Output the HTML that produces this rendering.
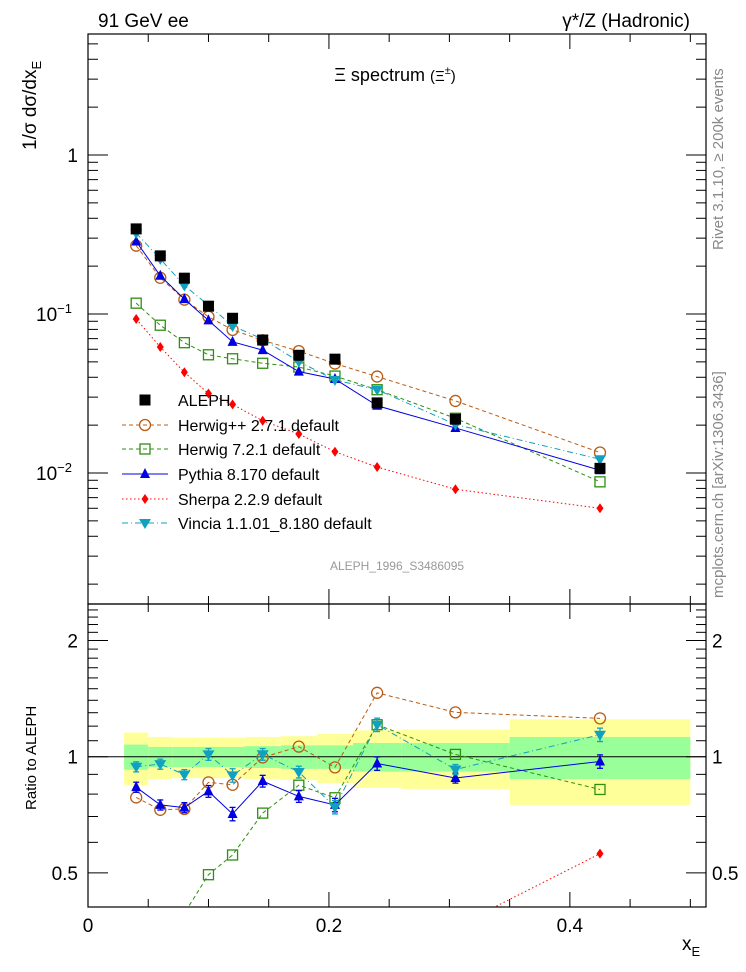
<!DOCTYPE html>
<html><head><meta charset="utf-8"><style>
html,body{margin:0;padding:0;background:#fff;}
svg{display:block;font-family:"Liberation Sans",sans-serif;}
</style></head><body>
<svg id="chart" width="746" height="972" viewBox="0 0 746 972">
<defs>
<clipPath id="clipTop"><rect x="88" y="34" width="618" height="570"/></clipPath>
<clipPath id="clipBot"><rect x="88" y="604" width="618" height="303"/></clipPath>
</defs>
<g id="bands" clip-path="url(#clipBot)"></g>
<g id="grid"></g>
<g id="series"></g>
<rect x="88" y="34" width="618" height="570" fill="none" stroke="#000" stroke-width="1.2"/>
<rect x="88" y="604" width="618" height="303" fill="none" stroke="#000" stroke-width="1.2"/>
<text x="98" y="27" font-size="19">91 GeV ee</text>
<text x="690" y="27" font-size="19" text-anchor="end">γ*/Z (Hadronic)</text>
<text x="395" y="81" font-size="18" text-anchor="middle">Ξ spectrum <tspan font-size="15">(Ξ</tspan><tspan font-size="11" dy="-7">±</tspan><tspan font-size="15" dy="7">)</tspan></text>
<text x="397" y="570" font-size="12" fill="#999" text-anchor="middle">ALEPH_1996_S3486095</text>
<text transform="translate(723,250) rotate(-90)" font-size="15" fill="#888">Rivet 3.1.10, ≥ 200k events</text>
<text transform="translate(723,598) rotate(-90)" font-size="15" fill="#888">mcplots.cern.ch [arXiv:1306.3436]</text>
<text transform="translate(36,150) rotate(-90)" font-size="19">1/σ dσ/dx<tspan font-size="13" dy="5">E</tspan></text>
<text transform="translate(36,810) rotate(-90)" font-size="15">Ratio to ALEPH</text>
<text x="682" y="950" font-size="19">x<tspan font-size="13" dy="6">E</tspan></text>
<g id="legend"></g>
</svg>
<script>
const binEdges=[0.03,0.05,0.07,0.09,0.11,0.13,0.16,0.19,0.22,0.26,0.35,0.50];
const xCenters=[0.04,0.06,0.08,0.10,0.12,0.145,0.175,0.205,0.24,0.305,0.425];
const aleph=[0.343,0.232,0.168,0.112,0.094,0.0686,0.055,0.052,0.0276,0.0218,0.0107];
const alephTotErr=[0.155,0.125,0.12,0.12,0.12,0.125,0.13,0.145,0.17,0.175,0.25];
const alephStatErr=[0.075,0.06,0.06,0.06,0.06,0.065,0.07,0.07,0.085,0.085,0.125];
const herwigpp=[0.269,0.169,0.123,0.0961,0.0795,0.0683,0.0584,0.0488,0.0404,0.0284,0.01345];
const herwig7=[0.117,0.085,0.066,0.0554,0.0523,0.049,0.0464,0.0407,0.0334,0.0221,0.0088];
const pythia=[0.286,0.174,0.124,0.0911,0.0668,0.0593,0.0434,0.039,0.0265,0.0192,0.0104];
const sherpa=[0.093,0.062,0.043,0.0316,0.027,0.0213,0.0176,0.0136,0.0109,0.0079,0.006];
const vincia=[0.323,0.222,0.151,0.1136,0.0841,0.0696,0.0502,0.0385,0.0334,0.0202,0.0122];
const mcRelErr=[0.03,0.03,0.03,0.035,0.04,0.035,0.035,0.04,0.04,0.03,0.04];
const xTicks=[0,0.2,0.4];
const ratioTicks=[0.5,1,2];

const NS="http://www.w3.org/2000/svg";
const X0=88,X1=706,XMIN=0,XMAX=0.513;
function sx(v){return X0+(v-XMIN)/(XMAX-XMIN)*(X1-X0);}
function sy(v){return 155-159*Math.log10(v);}
function sr(v){return 756.7-386*Math.log10(v);}
function mk(tag,attrs,parent){const e=document.createElementNS(NS,tag);for(const k in attrs)e.setAttribute(k,attrs[k]);parent.appendChild(e);return e;}
const grid=document.getElementById('grid'),series=document.getElementById('series'),bands=document.getElementById('bands'),legend=document.getElementById('legend');

// bands
for(let i=0;i<xCenters.length;i++){
  const xa=sx(binEdges[i]),xb=sx(binEdges[i+1]);
  const y=mk('rect',{x:xa,y:sr(1+alephTotErr[i]),width:xb-xa,height:sr(1-alephTotErr[i])-sr(1+alephTotErr[i]),fill:'#ffff99'},bands);
  
  
  const g=mk('rect',{x:xa,y:sr(1+alephStatErr[i]),width:xb-xa,height:sr(1-alephStatErr[i])-sr(1+alephStatErr[i]),fill:'#99ff99'},bands);
  
  
}
const unity=mk('line',{x1:X0,x2:X1,y1:sr(1),y2:sr(1),stroke:'#000','stroke-width':1},grid);



// x ticks
for(let v=0;v<=0.5001;v+=0.05){
  const major=xTicks.some(t=>Math.abs(t-v)<1e-6);
  const L=major?15:8;
  [[34,1],[604,-1],[604,1],[907,-1]].forEach(([y,d])=>mk('line',{x1:sx(v),x2:sx(v),y1:y,y2:y+d*L,stroke:'#000'},grid));
}
xTicks.forEach(t=>{const e=mk('text',{x:sx(t),y:932,'font-size':19,'text-anchor':'middle'},grid);e.textContent=String(t);
  
  });

// upper log ticks
for(let d=-3;d<=0;d++){for(let m=1;m<=9;m++){const v=m*Math.pow(10,d);const y=sy(v);if(y<34||y>604)continue;const L=m==1?20:10;
  mk('line',{x1:X0,x2:X0+L,y1:y,y2:y,stroke:'#000'},grid);mk('line',{x1:X1,x2:X1-L,y1:y,y2:y,stroke:'#000'},grid);}}
const yl=[[1,'1',''],[0.1,'10','−1'],[0.01,'10','−2']];
yl.forEach(([v,b,e])=>{const t=mk('text',{x:e?68:78,y:sy(v)+7,'font-size':19,'text-anchor':e?'end':'end'},grid);
  
  
  if(e){t.setAttribute('x',72);t.innerHTML=b+'<tspan font-size="13" dy="-8">'+e+'</tspan>';}else t.textContent=b;});

// ratio ticks
for(let v=0.4;v<=2.5;v=Math.round((v+0.1)*10)/10){const y=sr(v);if(y<604||y>907)continue;
  const major=ratioTicks.includes(v);const L=major?20:10;
  mk('line',{x1:X0,x2:X0+L,y1:y,y2:y,stroke:'#000'},grid);mk('line',{x1:X1,x2:X1-L,y1:y,y2:y,stroke:'#000'},grid);}
ratioTicks.forEach(v=>{[[78,'end'],[712,'start']].forEach(([x,a])=>{const t=mk('text',{x:x,y:sr(v)+7,'font-size':19,'text-anchor':a},grid);t.textContent=String(v);
  
  });});

function marker(kind,x,y,color,parent){
  if(kind=='square')return mk('rect',{x:x-5.5,y:y-5.5,width:11,height:11,fill:'#000'},parent);
  if(kind=='circle')return mk('circle',{cx:x,cy:y,r:5.5,fill:'none',stroke:color,'stroke-width':1.3},parent);
  if(kind=='osquare')return mk('rect',{x:x-5,y:y-5,width:10,height:10,fill:'none',stroke:color,'stroke-width':1.3},parent);
  if(kind=='tri')return mk('polygon',{points:`${x},${y-6} ${x-5},${y+4} ${x+5},${y+4}`,fill:color},parent);
  if(kind=='itri')return mk('polygon',{points:`${x},${y+6} ${x-6},${y-4} ${x+6},${y-4}`,fill:color},parent);
  if(kind=='diamond')return mk('polygon',{points:`${x},${y-5} ${x-3.5},${y} ${x},${y+5} ${x+3.5},${y}`,fill:color},parent);
}
const mcs=[
 {name:'herwigpp',label:'Herwig++ 2.7.1 default',vals:herwigpp,color:'#b85c14',dash:'4,3',m:'circle',err:false},
 {name:'herwig7',label:'Herwig 7.2.1 default',vals:herwig7,color:'#2e8f10',dash:'4,3',m:'osquare',err:false},
 {name:'pythia',label:'Pythia 8.170 default',vals:pythia,color:'#0000e0',dash:'',m:'tri',err:true},
 {name:'sherpa',label:'Sherpa 2.2.9 default',vals:sherpa,color:'#ff0000',dash:'1.5,2.5',m:'diamond',err:false},
 {name:'vincia',label:'Vincia 1.1.01_8.180 default',vals:vincia,color:'#10a0c0',dash:'6,3,1,3',m:'itri',err:true}
];
const gTop=mk('g',{'clip-path':'url(#clipTop)'},series),gBot=mk('g',{'clip-path':'url(#clipBot)'},series);
mcs.forEach(s=>{
  const pTop=s.vals.map((v,i)=>sx(xCenters[i])+','+sy(v)).join(' ');
  const pBot=s.vals.map((v,i)=>sx(xCenters[i])+','+sr(v/aleph[i])).join(' ');
  const a={fill:'none',stroke:s.color,'stroke-width':1};if(s.dash)a['stroke-dasharray']=s.dash;
  const l1=mk('polyline',Object.assign({points:pTop},a),gTop);
  
  
  const l2=mk('polyline',Object.assign({points:pBot},a),gBot);
  
  
  s.vals.forEach((v,i)=>{
    const x=sx(xCenters[i]);
    const m1=marker(s.m,x,sy(v),s.color,gTop);
    
    
    const r=v/aleph[i];
    if(s.err){const e=mcRelErr[i];
      mk('line',{x1:x,x2:x,y1:sr(r*(1+e)),y2:sr(r*(1-e)),stroke:s.color,'stroke-width':1.3},gBot);
      mk('line',{x1:x-3,x2:x+3,y1:sr(r*(1+e)),y2:sr(r*(1+e)),stroke:s.color,'stroke-width':1.3},gBot);
      mk('line',{x1:x-3,x2:x+3,y1:sr(r*(1-e)),y2:sr(r*(1-e)),stroke:s.color,'stroke-width':1.3},gBot);}
    const m2=marker(s.m,x,sr(r),s.color,gBot);
    
    
  });
});
aleph.forEach((v,i)=>{const m=marker('square',sx(xCenters[i]),sy(v),'#000',gTop);
  
  });

// legend
const ly=[400,425,449,474,499,523];
const la=mk('g',{},legend);


marker('square',145,ly[0],'#000',la);
const lt=mk('text',{x:178,y:ly[0]+6,'font-size':16},la);lt.textContent='ALEPH';
mcs.forEach((s,k)=>{const y=ly[k+1];const g=mk('g',{},legend);
  
  
  const a={x1:122,x2:168,y1:y,y2:y,stroke:s.color,'stroke-width':1};if(s.dash)a['stroke-dasharray']=s.dash;
  mk('line',a,g);marker(s.m,145,y,s.color,g);
  const t=mk('text',{x:178,y:y+6,'font-size':16},g);t.textContent=s.label;});
</script>
</body></html>
